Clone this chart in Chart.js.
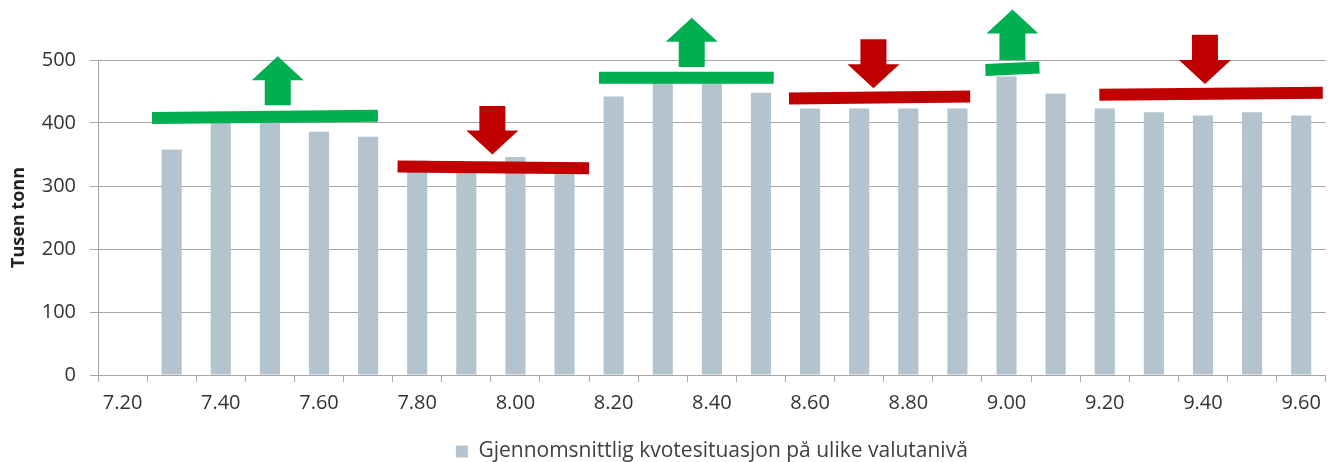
<!DOCTYPE html>
<html>
<head>
<meta charset="utf-8">
<script src="https://cdn.jsdelivr.net/npm/chart.js@4/dist/chart.umd.min.js"></script>
<style>
  html, body { margin: 0; padding: 0; background: #fff; }
  #wrap { width: 1330px; height: 462px; }
</style>
</head>
<body>
<div id="wrap"><canvas id="kvoteChart"></canvas></div>
<script>
// currency levels (NOK) on the x axis
const rates = [
  "7.20", "7.30", "7.40", "7.50", "7.60", "7.70", "7.80", "7.90", "8.00",
  "8.10", "8.20", "8.30", "8.40", "8.50", "8.60", "8.70", "8.80", "8.90",
  "9.00", "9.10", "9.20", "9.30", "9.40", "9.50", "9.60",
];

// average quota situation, thousand tonnes
const quota = [
  null, 358, 400, 400, 386, 378, 340, 338, 346, 336, 442, 466, 466,
  448, 423, 423, 423, 423, 474, 447, 423, 417, 412, 417, 412,
];

const yTicks = [0, 100, 200, 300, 400, 500];

// level bands drawn over the bars (rate from/to, level from/to)
const bandFrom = [7.26, 7.76, 8.17, 8.557, 8.957, 9.189];
const bandTo = [7.72, 8.15, 8.526, 8.926, 9.067, 9.644];
const bandStart = [408, 331, 472, 439, 484, 445];
const bandEnd = [411.5, 328, 472, 442, 488, 448];

// arrows: rate position, tail value, tip value
const arrowAt = [7.516, 7.953, 8.359, 8.729, 9.012, 9.404];
const arrowTail = [428, 427, 489, 533, 500, 540];
const arrowTip = [506, 350, 567, 455, 580, 462];

const GREEN = "#00b050";
const RED = "#c00000";

function rateToIndex(r) {
  return (r - 7.2) / 0.1;
}

const overlayPlugin = {
  id: "overlay",
  afterDatasetsDraw(chart) {
    const ctx = chart.ctx;
    const x = chart.scales.x;
    const y = chart.scales.y;
    ctx.save();

    for (let i = 0; i < bandFrom.length; i++) {
      const up = i % 2 === 0;
      ctx.strokeStyle = up ? GREEN : RED;
      ctx.lineWidth = 12;
      ctx.lineCap = "butt";
      ctx.beginPath();
      ctx.moveTo(x.getPixelForValue(rateToIndex(bandFrom[i])), y.getPixelForValue(bandStart[i]));
      ctx.lineTo(x.getPixelForValue(rateToIndex(bandTo[i])), y.getPixelForValue(bandEnd[i]));
      ctx.stroke();
    }

    for (let i = 0; i < arrowAt.length; i++) {
      const cx = x.getPixelForValue(rateToIndex(arrowAt[i]));
      const tail = y.getPixelForValue(arrowTail[i]);
      const tip = y.getPixelForValue(arrowTip[i]);
      const dir = tip < tail ? -1 : 1;
      const headLen = 24;
      const headW = 26;
      const shaftW = 13;
      const base = tip - dir * headLen;
      ctx.fillStyle = dir < 0 ? GREEN : RED;
      ctx.beginPath();
      ctx.moveTo(cx - shaftW, tail);
      ctx.lineTo(cx - shaftW, base);
      ctx.lineTo(cx - headW, base);
      ctx.lineTo(cx, tip);
      ctx.lineTo(cx + headW, base);
      ctx.lineTo(cx + shaftW, base);
      ctx.lineTo(cx + shaftW, tail);
      ctx.closePath();
      ctx.fill();
    }
    ctx.restore();
  },
};

const tickFont = { family: "'Open Sans', sans-serif", size: 20 };
const axisGray = "#a6a6a6";

new Chart(document.getElementById("kvoteChart"), {
  type: "bar",
  data: {
    labels: rates,
    datasets: [
      {
        label: "Gjennomsnittlig kvotesituasjon på ulike valutanivå",
        data: quota,
        backgroundColor: "#b3c4ce",
        borderWidth: 0,
        categoryPercentage: 1,
        barPercentage: 0.41,
      },
    ],
  },
  options: {
    responsive: true,
    maintainAspectRatio: false,
    animation: false,
    layout: {
      padding: { top: 60, right: 2, left: 0, bottom: -10 },
    },
    plugins: {
      legend: {
        position: "bottom",
        fullSize: false,
        labels: {
          boxWidth: 12,
          boxHeight: 12,
          color: "#404040",
          padding: 0,
          font: { family: "'Open Sans', sans-serif", size: 21 },
        },
      },
      tooltip: { enabled: false },
    },
    scales: {
      x: {
        grid: {
          display: true,
          offset: true,
          drawOnChartArea: false,
          tickLength: 7,
          color: axisGray,
        },
        border: { color: axisGray },
        ticks: {
          autoSkip: false,
          maxRotation: 0,
          padding: 9,
          color: "#333",
          font: tickFont,
          callback: (v, i) => (i % 2 === 0 ? rates[i] : ""),
        },
        afterFit(scale) {
          scale.height = 66;
        },
      },
      y: {
        min: 0,
        max: 500,
        afterBuildTicks(scale) {
          scale.ticks = yTicks.map((v) => ({ value: v }));
        },
        grid: { color: axisGray, tickLength: 8 },
        border: { color: axisGray },
        ticks: {
          padding: 14,
          color: "#333",
          font: tickFont,
        },
        title: {
          display: true,
          text: "Tusen tonn",
          color: "#222",
          padding: { top: 8, bottom: 0 },
          font: { family: "'Open Sans', sans-serif", size: 18, weight: "bold" },
        },
        afterFit(scale) {
          scale.width = 98;
        },
      },
    },
  },
  plugins: [overlayPlugin],
});
</script>
</body>
</html>
